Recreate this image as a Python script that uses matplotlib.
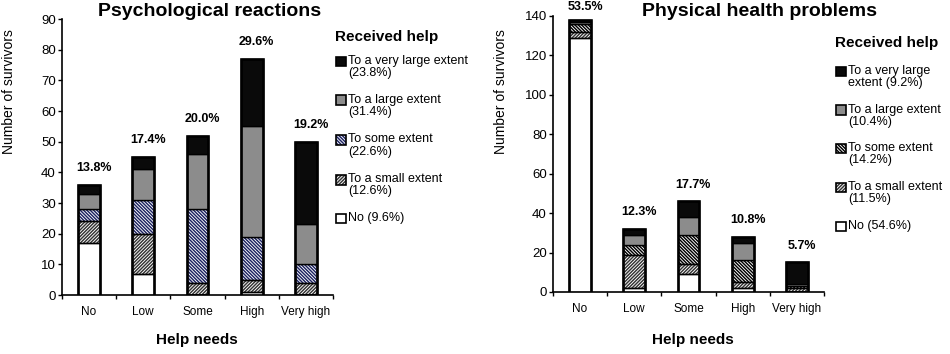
import numpy as np
import matplotlib
matplotlib.use('Agg')
import matplotlib.pyplot as plt
from matplotlib.patches import Rectangle

plt.rcParams['font.family'] = ['Liberation Sans', 'DejaVu Sans']
plt.rcParams['hatch.linewidth'] = 1.05

CATEGORIES = ['No', 'Low', 'Some', 'High', 'Very high']
LEVELS = ['No', 'To a small extent', 'To some extent', 'To a large extent', 'To a very large extent']

# left panel: psychological reactions (rows = received help level, cols = help needs)
PSY_NO = [17, 7, 0, 1, 0]
PSY_SMALL = [7, 13, 4, 4, 4]
PSY_SOME = [4, 11, 24, 14, 6]
PSY_LARGE = [5, 10, 18, 36, 13]
PSY_VLARGE = [3, 4, 6, 22, 27]
PSY_PCT = ['13.8%', '17.4%', '20.0%', '29.6%', '19.2%']
PSY_LEGEND = ['To a very large extent\n(23.8%)', 'To a large extent\n(31.4%)',
              'To some extent\n(22.6%)', 'To a small extent\n(12.6%)', 'No (9.6%)']

# right panel: physical health problems
PHY_NO = [129, 2, 9, 2, 0]
PHY_SMALL = [3, 17, 5, 3, 2]
PHY_SOME = [4, 5, 15, 11, 1]
PHY_LARGE = [1, 5, 9, 9, 1]
PHY_VLARGE = [1, 3, 8, 3, 11]
PHY_PCT = ['53.5%', '12.3%', '17.7%', '10.8%', '5.7%']
PHY_LEGEND = ['To a very large\nextent (9.2%)', 'To a large extent\n(10.4%)',
              'To some extent\n(14.2%)', 'To a small extent\n(11.5%)', 'No (54.6%)']

W, H = 950, 354


def styles(some_color):
    # fill, hatch, hatch colour for No, small, some, large, very large
    return [
        ('white', None, 'black'),
        ('white', '/' * 10, '#333333'),
        ('white', '\\' * 10, some_color),
        ('#8c8c8c', None, 'black'),
        ('#0a0a0a', None, 'black'),
    ]


def draw_panel(ax, series, pct, ymax, yticks, some_color):
    x = np.arange(len(CATEGORIES))
    bottom = np.zeros(len(CATEGORIES))
    st = styles(some_color)
    for vals, (fc, hatch, hc) in zip(series, st):
        vals = np.array(vals, dtype=float)
        if hatch:
            ax.bar(x, vals, 0.4, bottom=bottom, color=fc, hatch=hatch,
                   edgecolor=hc, linewidth=0, zorder=2)
            ax.bar(x, vals, 0.4, bottom=bottom, fill=False, edgecolor='black',
                   linewidth=1.0, zorder=3)
        else:
            ax.bar(x, vals, 0.4, bottom=bottom, color=fc, edgecolor='black',
                   linewidth=1.0, zorder=3)
        bottom += vals
    ax.bar(x, bottom, 0.4, fill=False, edgecolor='black', linewidth=1.9, zorder=4)
    for xi, tot, lab in zip(x, bottom, pct):
        off = 12 if tot < 0.9 * ymax else 9
        ax.annotate(lab, (xi, tot), xytext=(3.5, off), textcoords='offset points',
                    ha='center', va='center', fontsize=9, fontweight='bold',
                    annotation_clip=False)
    ax.set_xlim(-0.5, 4.5)
    ax.set_ylim(0, ymax)
    ax.set_yticks(yticks)
    ax.set_xticks(x)
    ax.set_xticklabels(CATEGORIES, fontsize=8.5)
    ax.set_xticks(np.arange(-0.5, 5, 1), minor=True)
    ax.tick_params(axis='x', which='major', length=0, pad=8)
    ax.tick_params(axis='x', which='minor', length=3, direction='out', width=1)
    ax.tick_params(axis='y', length=3, direction='out', width=1, labelsize=9.5, pad=1.5)
    for s in ['top', 'right']:
        ax.spines[s].set_visible(False)
    for s in ['left', 'bottom']:
        ax.spines[s].set_linewidth(1.2)


def draw_legend(fig, x0, title_y, entry_ys, labels, some_color):
    fig.text(x0 / W, 1 - title_y / H, 'Received help', fontsize=11, fontweight='bold',
             ha='left', va='center')
    st = styles(some_color)[::-1]
    for y, lab, (fc, hatch, hc) in zip(entry_ys, labels, st):
        sq = 9.5
        if hatch:
            fig.add_artist(Rectangle(((x0 + 1) / W, 1 - (y + sq / 2) / H), sq / W, sq / H,
                                     facecolor=fc, hatch=hatch, edgecolor=hc, linewidth=0,
                                     transform=fig.transFigure))
        else:
            fig.add_artist(Rectangle(((x0 + 1) / W, 1 - (y + sq / 2) / H), sq / W, sq / H,
                                     facecolor=fc, edgecolor='none',
                                     transform=fig.transFigure))
        fig.add_artist(Rectangle(((x0 + 1) / W, 1 - (y + sq / 2) / H), sq / W, sq / H,
                                 fill=False, edgecolor='black', linewidth=1.2,
                                 transform=fig.transFigure))
        fig.text((x0 + 13) / W, 1 - (y - 6.5) / H, lab, fontsize=9, ha='left', va='top',
                 linespacing=1.0)


fig = plt.figure(figsize=(9.5, 3.54), dpi=100)

ax1 = fig.add_axes([62 / W, 1 - 295 / H, 271 / W, 276 / H])
draw_panel(ax1, [PSY_NO, PSY_SMALL, PSY_SOME, PSY_LARGE, PSY_VLARGE], PSY_PCT,
           90, range(0, 91, 10), '#1c2260')
ax2 = fig.add_axes([553 / W, 1 - 292 / H, 271 / W, 276 / H])
draw_panel(ax2, [PHY_NO, PHY_SMALL, PHY_SOME, PHY_LARGE, PHY_VLARGE], PHY_PCT,
           140, range(0, 141, 20), 'black')

fig.text(210 / W, 1 - 12 / H, 'Psychological reactions', fontsize=14, fontweight='bold',
         ha='center', va='center')
fig.text(760 / W, 1 - 12 / H, 'Physical health problems', fontsize=14, fontweight='bold',
         ha='center', va='center')
fig.text(9 / W, 1 - 92 / H, 'Number of survivors', fontsize=10, rotation=90,
         ha='center', va='center')
fig.text(501 / W, 1 - 92 / H, 'Number of survivors', fontsize=10, rotation=90,
         ha='center', va='center')
fig.text(197 / W, 1 - 340 / H, 'Help needs', fontsize=11, fontweight='bold',
         ha='center', va='center')
fig.text(693 / W, 1 - 340 / H, 'Help needs', fontsize=11, fontweight='bold',
         ha='center', va='center')

draw_legend(fig, 335, 36.7, [61.7, 100, 140, 180, 218.3], PSY_LEGEND, '#1c2260')
draw_legend(fig, 835, 42.7, [71.7, 110, 148.3, 187.3, 226.7], PHY_LEGEND, 'black')

fig.savefig('out.png', dpi=100)
